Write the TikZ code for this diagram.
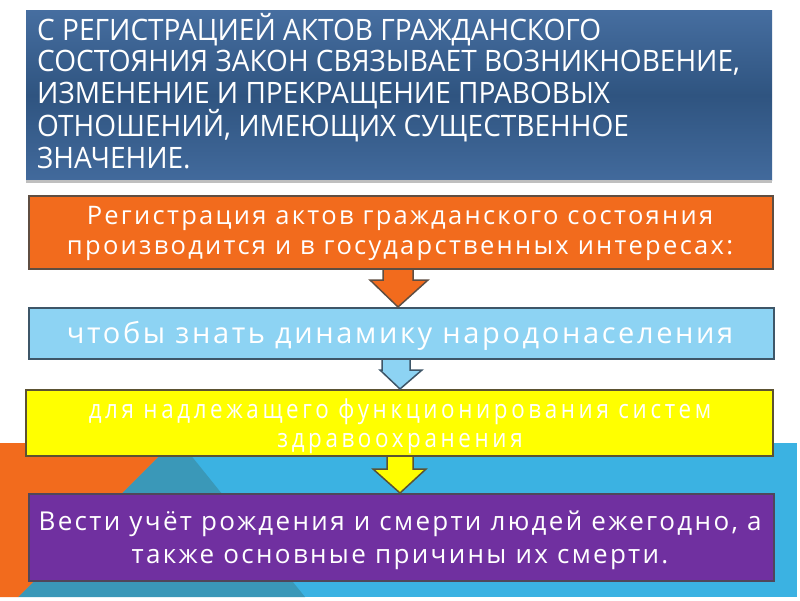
\documentclass[tikz,border=0pt]{standalone}
\usepackage{fontspec}
\setmainfont{Open Sans}
\newfontfamily\headfont[FakeStretch=0.95]{Open Sans}
\newfontfamily\yfont[FakeStretch=0.86,LetterSpace=14]{Open Sans}
\newfontfamily\bodyfont[LetterSpace=9]{Open Sans}
\usetikzlibrary{calc}
\definecolor{orangeC}{RGB}{242,107,29}
\definecolor{obord}{RGB}{95,78,66}
\definecolor{lblue}{RGB}{141,211,243}
\definecolor{lbord}{RGB}{62,86,104}
\definecolor{yel}{RGB}{255,255,0}
\definecolor{ybord}{RGB}{92,82,50}
\definecolor{purp}{RGB}{112,48,160}
\definecolor{pbord}{RGB}{80,70,90}
\definecolor{band}{RGB}{59,178,226}
\definecolor{teal}{RGB}{58,152,184}
\definecolor{htop}{RGB}{70,110,160}
\definecolor{hmid}{RGB}{47,84,128}
\definecolor{hbot}{RGB}{66,106,156}
\tikzset{
  box/.style={rectangle, draw, line width=2pt, anchor=north west, inner sep=0pt},
  btext/.style={align=center, text=white, inner sep=0pt, anchor=base},
  blockarrow/.style={draw, line width=1.5pt, line join=miter}
}
\begin{document}
\begin{tikzpicture}[x=1pt,y=-1pt]
\useasboundingbox (0,0) rectangle (800,600);
\fill[white] (0,0) rectangle (800,600);
% background band
\fill[band] (0,443) rectangle (797,597);
\fill[teal] (172,443) -- (181,443) -- (305,597) -- (18,597) -- cycle;
\fill[orangeC] (0,443) -- (172,443) -- (18,597) -- (0,597) -- cycle;
% header
\node[rectangle, anchor=north west, minimum width=746pt, minimum height=170pt, inner sep=0pt,
  top color=htop, bottom color=hbot, middle color=hmid] (hdr) at (26,10) {};
\fill[black!25] (hdr.south west) rectangle ($(hdr.south east)+(0,3)$);
\node[anchor=base west, align=left, inner sep=0pt, text=white,
  font=\headfont\fontsize{29.5}{31.3}\selectfont] (htext) at (37,168)
  {С РЕГИСТРАЦИЕЙ АКТОВ ГРАЖДАНСКОГО\\
   СОСТОЯНИЯ ЗАКОН СВЯЗЫВАЕТ ВОЗНИКНОВЕНИЕ,\\
   ИЗМЕНЕНИЕ И ПРЕКРАЩЕНИЕ ПРАВОВЫХ\\
   ОТНОШЕНИЙ, ИМЕЮЩИХ СУЩЕСТВЕННОЕ\\
   ЗНАЧЕНИЕ.};
% boxes
\node[box, draw=obord, fill=orangeC, minimum width=744pt, minimum height=73pt] (b1) at (28,195) {};
\node[box, draw=lbord, fill=lblue, minimum width=745pt, minimum height=51pt] (b2) at (28,307) {};
\node[box, draw=ybord, fill=yel, minimum width=747pt, minimum height=66pt] (b3) at (25,389) {};
\node[box, draw=pbord, fill=purp, minimum width=745pt, minimum height=87pt] (b4) at (28,493) {};
% arrows
\draw[blockarrow, draw=obord, fill=orangeC]
  ($(b1.south west)+(355,0)$) -- ($(b1.south west)+(355,10)$) -- ($(b1.south west)+(342,10)$)
  -- (b2.north -| 398,0) -- ($(b1.south west)+(400,10)$) -- ($(b1.south west)+(385,10)$)
  -- ($(b1.south west)+(385,0)$);
\draw[blockarrow, draw=lbord, fill=lblue]
  ($(b2.south west)+(354,0)$) -- ($(b2.south west)+(354,10)$) -- ($(b2.south west)+(352,10)$)
  -- (b3.north -| 400,0) -- ($(b2.south west)+(394,10)$) -- ($(b2.south west)+(382,10)$)
  -- ($(b2.south west)+(382,0)$);
\draw[blockarrow, draw=ybord, fill=yel]
  ($(b3.south west)+(362,0)$) -- ($(b3.south west)+(362,12)$) -- ($(b3.south west)+(348,12)$)
  -- (b4.north -| 400,0) -- ($(b3.south west)+(401,12)$) -- ($(b3.south west)+(388,12)$)
  -- ($(b3.south west)+(388,0)$);
% texts
\node[btext, font=\bodyfont\fontsize{25.5}{30}\selectfont] (t1) at (400,254)
  {Регистрация актов гражданского состояния\\производится и в государственных интересах:};
\node[btext, font=\bodyfont\fontsize{29}{32}\selectfont] (t2) at (400,343)
  {чтобы знать динамику народонаселения};
\node[btext, font=\yfont\fontsize{26}{29}\selectfont] (t3) at (400,447)
  {для надлежащего функционирования систем\\здравоохранения};
\node[btext, font=\bodyfont\fontsize{26}{33}\selectfont] (t4) at (400,563)
  {Вести учёт рождения и смерти людей ежегодно, а\\также основные причины их смерти.};
\end{tikzpicture}
\end{document}
